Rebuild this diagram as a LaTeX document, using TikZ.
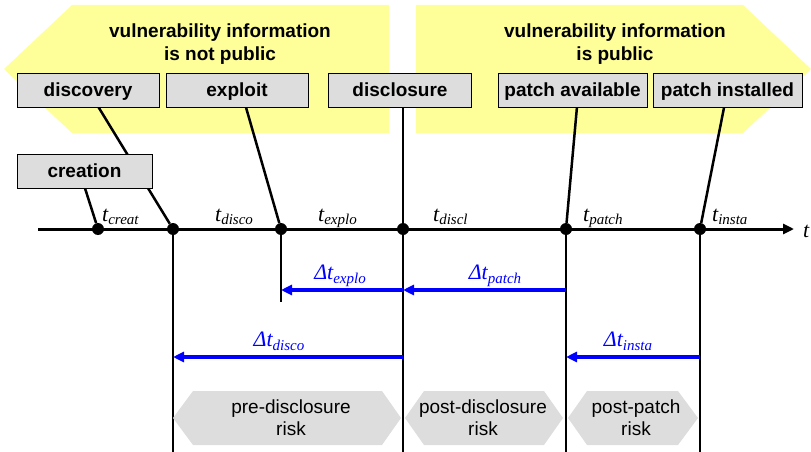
\documentclass[tikz,border=0pt]{standalone}
\usepackage{fontspec}
\setmainfont{Liberation Sans}
\newfontfamily\timesfont{Liberation Serif}
\usetikzlibrary{arrows.meta,backgrounds}

\definecolor{infoyellow}{RGB}{255,255,153}
\definecolor{boxgray}{RGB}{221,221,221}

% time point and time span labels
\newcommand{\tlab}[1]{{\timesfont\itshape\fontsize{22}{22}\selectfont t\raisebox{-3pt}{\fontsize{15}{15}\selectfont #1}}}
\newcommand{\dlab}[1]{{\timesfont\itshape\fontsize{22}{22}\selectfont Δt\raisebox{-4pt}{\fontsize{15}{15}\selectfont #1}}}

\begin{document}
\begin{tikzpicture}[x=1pt,y=-1pt]
        \tikzstyle{event}=[draw,fill=boxgray,minimum height=34pt,inner sep=0pt,text height=13.5pt,text depth=0pt,font=\bfseries\fontsize{19}{22}\selectfont]
        \tikzstyle{info}=[align=center,inner sep=0pt,font=\bfseries\fontsize{19}{23}\selectfont]
        \tikzstyle{note}=[align=center,inner sep=0pt,font=\fontsize{19}{22}\selectfont]
        \tikzstyle{dot}=[circle,fill,inner sep=0pt,minimum size=12pt]
        \tikzstyle{stem}=[line width=2.5pt]
        \tikzstyle{span}=[blue,line width=3.5pt,-{Triangle[length=11pt,width=10pt]}]
        \tikzstyle{tlabel}=[anchor=base west,inner sep=0pt]
        \tikzstyle{dlabel}=[anchor=base,inner sep=0pt,text=blue]
        \useasboundingbox (0,0) rectangle (811,452);

        % hidden / public phases
        \begin{pgfonlayer}{background}
        \fill[infoyellow] (72,5) -- (389,5) -- (389,133) -- (72,133) -- (4,69) -- cycle;
        \fill[infoyellow] (416,5) -- (743,5) -- (811,69) -- (743,133) -- (416,133) -- cycle;
        \end{pgfonlayer}
        \node[info] (hidden) at (220,44) {vulnerability information\\is not public};
        \node[info] (public) at (615,44) {vulnerability information\\is public};

        % events
        \node[event,minimum width=142pt] (discovery) at (88,90) {discovery};
        \node[event,minimum width=142pt] (exploit) at (237,90) {exploit};
        \node[event,minimum width=143pt] (disclosure) at (400,90) {disclosure};
        \node[event,minimum width=149pt] (patchav) at (572.5,90) {patch available};
        \node[event,minimum width=149pt] (patchin) at (727.5,90) {patch installed};
        \node[event,minimum width=135pt] (creation) at (84.5,171) {creation};

        % time axis
        \coordinate (t0) at (38,229);
        \coordinate (t1) at (794,229);
        \draw[line width=3pt,-{Triangle[length=11pt,width=10pt]}] (t0) -- (t1);
        \node[anchor=west,inner sep=0pt,font=\timesfont\itshape\fontsize{22}{22}\selectfont] (t) at (803,231) {t};

        \node[dot] (creat) at (98,229) {};
        \node[dot] (disco) at (173,229) {};
        \node[dot] (explo) at (281,229) {};
        \node[dot] (discl) at (403,229) {};
        \node[dot] (patch) at (566,229) {};
        \node[dot] (insta) at (700,229) {};

        \node[tlabel] (lcreat) at (102,221) {\tlab{creat}};
        \node[tlabel] (ldisco) at (215,221) {\tlab{disco}};
        \node[tlabel] (lexplo) at (318,221) {\tlab{explo}};
        \node[tlabel] (ldiscl) at (433,221) {\tlab{discl}};
        \node[tlabel] (lpatch) at (583,221) {\tlab{patch}};
        \node[tlabel] (linsta) at (712,221) {\tlab{insta}};

        \coordinate (row1) at (0,290);
        \coordinate (row2) at (0,357);
        \coordinate (floor) at (0,452);

        % event lines
        \begin{pgfonlayer}{background}
        \draw[stem] (discovery) -- (disco);
        \draw[stem] ([xshift=-5pt]creation.center) -- (creat);
        \draw[stem] ([xshift=4pt]exploit.center) -- (explo);
        \draw[stem] ([xshift=6pt]patchav.center) -- (patch);
        \draw[stem] (patchin) -- (insta);
        \draw[stem] (disclosure.south -| discl) -- (discl);
        \end{pgfonlayer}

        \draw[stem] (disco) -- (disco |- floor);
        \draw[stem] (explo) -- (explo |- 0,302);
        \draw[stem] (discl) -- (discl |- floor);
        \draw[stem] (patch) -- (patch |- floor);
        \draw[stem] (insta) -- (insta |- floor);

        % time spans
        \draw[span] (discl |- row1) -- (explo |- row1);
        \draw[span] (patch |- row1) -- (discl |- row1);
        \draw[span] (discl |- row2) -- (disco |- row2);
        \draw[span] (insta |- row2) -- (patch |- row2);
        \node[dlabel] (dexplo) at (340,279) {\dlab{explo}};
        \node[dlabel] (dpatch) at (495,279) {\dlab{patch}};
        \node[dlabel] (ddisco) at (279,346) {\dlab{disco}};
        \node[dlabel] (dinsta) at (628,346) {\dlab{insta}};

        % risk phases
        \fill[boxgray] (173,418) -- (193,391) -- (382,391) -- (401,418) -- (382,445) -- (193,445) -- cycle;
        \fill[boxgray] (405,418) -- (424,391) -- (544,391) -- (563,418) -- (544,445) -- (424,445) -- cycle;
        \fill[boxgray] (568,418) -- (587,391) -- (678,391) -- (698,418) -- (678,445) -- (587,445) -- cycle;
        \node[note] (prerisk) at (291,418) {pre-disclosure\\risk};
        \node[note] (postrisk) at (483,418) {post-disclosure\\risk};
        \node[note] (patchrisk) at (636,418) {post-patch\\risk};
    \end{tikzpicture}
\end{document}
